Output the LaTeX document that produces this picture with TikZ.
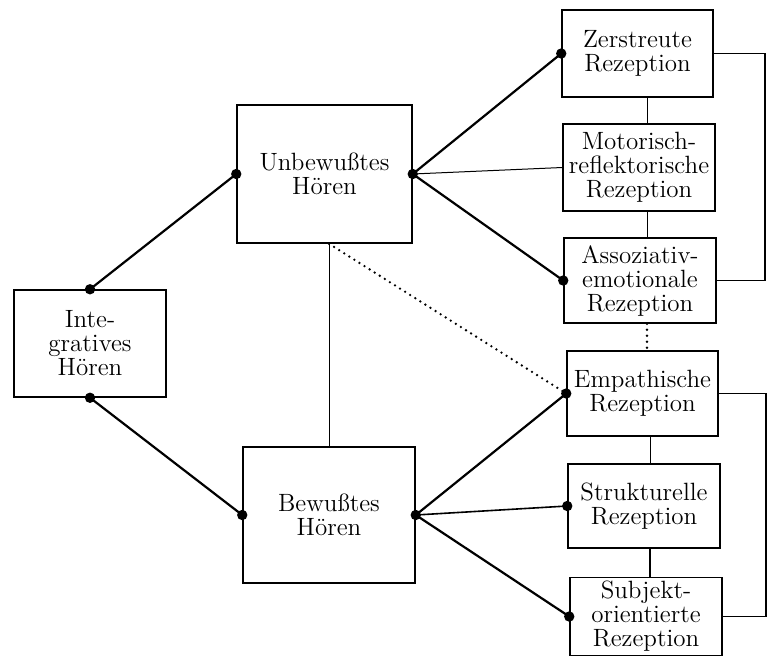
\documentclass[tikz,border=0pt]{standalone}
\usepackage{tikz}
\usetikzlibrary{calc}
\tikzset{box/.style={draw,line width=0.75pt,align=center,inner sep=1pt,font=\fontsize{12.5}{12}\selectfont},
	link/.style={line width=1.1pt},thin link/.style={line width=0.5pt},
	dotline/.style={line width=1.3pt,dash pattern=on 0pt off 3pt,line cap=round}}

\begin{document}
\begin{tikzpicture}[x=0.5pt,y=-0.5pt]
			\useasboundingbox (0,0) rectangle (767,660);
			\node[box,minimum width=76pt,minimum height=53.5pt] (int) at (90,343.5) {Inte-\\gratives\\Hören};
			\node[box,minimum width=87.5pt,minimum height=69pt] (unb) at (324.5,174) {Unbewußtes\\Hören};
			\node[box,minimum width=86pt,minimum height=68pt] (bew) at (329,515) {Bewußtes\\Hören};
			\node[box,minimum width=75.5pt,minimum height=43.5pt] (zer) at (637.5,53.5) {Zerstreute\\Rezeption};
			\node[box,minimum width=76pt,minimum height=43.5pt] (mot) at (639,167.5) {Motorisch-\\reflektorische\\Rezeption};
			\node[box,minimum width=76pt,minimum height=42.5pt] (ass) at (640,280.5) {Assoziativ-\\emotionale\\Rezeption};
			\node[box,minimum width=75.5pt,minimum height=42.5pt] (emp) at (642.5,393.5) {Empathische\\Rezeption};
			\node[box,minimum width=76pt,minimum height=42pt] (str) at (644,506) {Strukturelle\\Rezeption};
			\node[box,minimum width=76pt,minimum height=39pt] (sub) at (646,616.5) {Subjekt-\\orientierte\\Rezeption};
			\coordinate (mx) at (329,0);
			\coordinate (ux) at (647,0);
			\coordinate (lx) at (650,0);
			\coordinate (rx) at (765,0);
			\coordinate (rxx) at (766,0);
			% Hoeren
			\draw[link] (int.north) -- (unb.west);
			\draw[link] (int.south) -- (bew.west);
			\draw[thin link] (unb.south -| mx) -- (bew.north -| mx);
			\draw[dotline] (unb.south -| mx) -- (emp.west);
			% Rezeption
			\draw[link] (unb.east) -- (zer.west);
			\draw[thin link] (unb.east) -- (mot.west);
			\draw[link] (unb.east) -- (ass.west);
			\draw[link] (bew.east) -- (emp.west);
			\draw[line width=0.8pt] (bew.east) -- (str.west);
			\draw[link] (bew.east) -- (sub.west);
			\draw[thin link] (zer.south -| ux) -- (mot.north -| ux);
			\draw[thin link] (mot.south -| ux) -- (ass.north -| ux);
			\draw[dotline] (ass.south -| ux) -- (emp.north -| ux);
			\draw[thin link] (emp.south -| lx) -- (str.north -| lx);
			\draw[line width=0.8pt] (str.south -| lx) -- (sub.north -| lx);
			\draw[line width=0.75pt] (zer.east) -- (zer.east -| rx) -- (ass.east -| rx) -- (ass.east);
			\draw[line width=0.75pt] (emp.east) -- (emp.east -| rxx) -- (sub.east -| rxx) -- (sub.east);
			\foreach \p in {int.north,int.south,unb.west,unb.east,bew.west,bew.east,zer.west,ass.west,emp.west,str.west,sub.west}
				\fill (\p) circle (2.6pt);
		\end{tikzpicture}
\end{document}
